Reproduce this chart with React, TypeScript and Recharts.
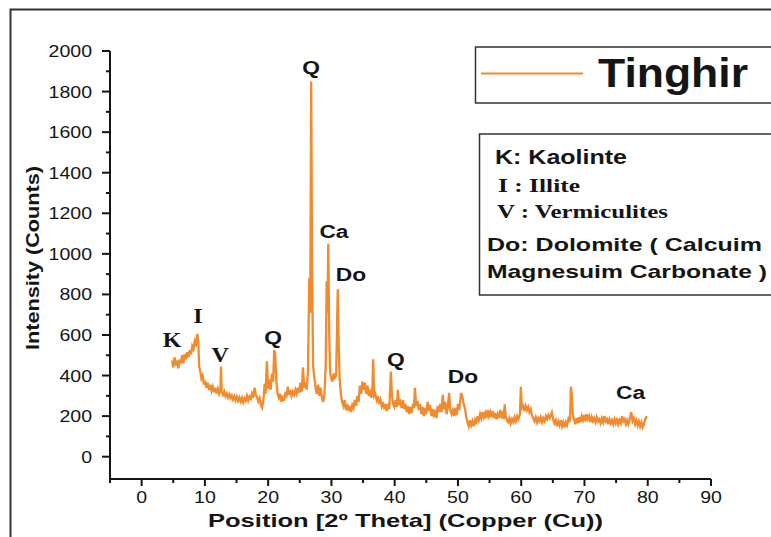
import React from 'react';
import { LineChart, Line, XAxis, YAxis, ReferenceDot } from 'recharts';

// XRD pattern, Tinghir sample
const twoTheta = [
  4.8, 5.0, 5.2, 5.4, 5.6, 5.8, 6.0, 6.2, 6.4, 6.6, 6.8, 7.0, 7.2, 7.4, 7.6, 7.8, 8.0, 8.2, 8.4, 8.6, 8.8, 8.95,
  9.1, 9.25, 9.45, 9.65, 9.85, 10.05, 10.25, 10.45, 10.65, 10.85, 11.05, 11.25, 11.45, 11.65, 11.85, 12.05, 12.25, 12.45,
  12.55, 12.65, 12.85, 13.05, 13.25, 13.45, 13.65, 13.85, 14.05, 14.25, 14.45, 14.65, 14.85, 15.05, 15.25, 15.45, 15.65,
  15.85, 16.05, 16.25, 16.45, 16.65, 16.85, 17.05, 17.25, 17.45, 17.65, 17.85, 18.05, 18.25, 18.45, 18.65, 18.85, 19.05,
  19.25, 19.45, 19.6, 19.8, 20.0, 20.2, 20.4, 20.6, 20.8, 20.95, 21.1, 21.3, 21.5, 21.7, 21.9, 22.1, 22.3, 22.5, 22.7,
  22.9, 23.1, 23.3, 23.5, 23.7, 23.9, 24.1, 24.3, 24.5, 24.7, 24.9, 25.1, 25.3, 25.5, 25.7, 25.9, 26.1, 26.3, 26.5, 26.65,
  26.8, 26.95, 27.1, 27.3, 27.5, 27.7, 27.9, 28.1, 28.3, 28.5, 28.7, 28.9, 29.1, 29.25, 29.38, 29.5, 29.65, 29.8, 29.95,
  30.15, 30.35, 30.55, 30.75, 30.9, 31.0, 31.15, 31.3, 31.5, 31.7, 31.9, 32.1, 32.3, 32.5, 32.7, 32.9, 33.1, 33.3, 33.5,
  33.7, 33.9, 34.1, 34.3, 34.5, 34.7, 34.9, 35.1, 35.3, 35.5, 35.7, 35.9, 36.1, 36.3, 36.45, 36.6, 36.75, 36.95, 37.15,
  37.35, 37.55, 37.75, 37.95, 38.15, 38.35, 38.55, 38.75, 38.95, 39.15, 39.4, 39.55, 39.75, 39.95, 40.15, 40.35, 40.5,
  40.7, 40.9, 41.1, 41.3, 41.5, 41.7, 41.9, 42.1, 42.3, 42.5, 42.7, 42.9, 43.05, 43.2, 43.4, 43.6, 43.8, 44.0, 44.2, 44.4,
  44.6, 44.8, 45.0, 45.2, 45.4, 45.6, 45.8, 46.0, 46.2, 46.4, 46.6, 46.8, 47.0, 47.2, 47.4, 47.6, 47.8, 48.0, 48.2, 48.4,
  48.6, 48.8, 49.0, 49.2, 49.4, 49.6, 49.8, 50.0, 50.2, 50.35, 50.5, 50.7, 50.9, 51.1, 51.3, 51.5, 51.7, 51.9, 52.1, 52.3,
  52.5, 52.7, 52.9, 53.1, 53.3, 53.5, 53.7, 53.9, 54.1, 54.3, 54.5, 54.7, 54.9, 55.1, 55.3, 55.5, 55.7, 55.9, 56.1, 56.3,
  56.5, 56.7, 56.9, 57.1, 57.25, 57.4, 57.55, 57.75, 57.95, 58.15, 58.35, 58.55, 58.75, 58.95, 59.15, 59.35, 59.55, 59.8,
  59.95, 60.1, 60.3, 60.5, 60.7, 60.9, 61.1, 61.3, 61.5, 61.7, 61.9, 62.1, 62.3, 62.5, 62.7, 62.9, 63.1, 63.3, 63.5, 63.7,
  63.9, 64.1, 64.3, 64.5, 64.85, 65.05, 65.25, 65.45, 65.65, 65.85, 66.05, 66.25, 66.45, 66.65, 66.85, 67.05, 67.25, 67.45,
  67.65, 67.75, 67.85, 68.0, 68.15, 68.35, 68.55, 68.75, 68.95, 69.15, 69.35, 69.55, 69.75, 69.95, 70.15, 70.35, 70.55,
  70.75, 70.95, 71.15, 71.35, 71.55, 71.75, 71.95, 72.15, 72.35, 72.55, 72.75, 72.95, 73.15, 73.35, 73.55, 73.75, 73.95,
  74.15, 74.35, 74.55, 74.75, 74.95, 75.15, 75.35, 75.55, 75.75, 75.95, 76.15, 76.35, 76.55, 76.75, 76.95, 77.15, 77.4,
  77.6, 77.8, 78.0, 78.2, 78.4, 78.6, 78.8, 79.0, 79.2, 79.4, 79.6, 79.85,
];

const counts = [
  475, 440, 490, 450, 475, 435, 480, 460, 500, 460, 505, 480, 515, 490, 525, 505, 545, 530, 570, 555, 605, 570,
  445, 425, 385, 400, 355, 375, 340, 365, 330, 355, 325, 345, 318, 340, 312, 335, 310, 330,
  445, 320, 305, 322, 298, 312, 292, 308, 288, 302, 282, 298, 278, 296, 275, 292, 272,
  290, 268, 288, 275, 300, 278, 296, 285, 310, 290, 340, 305, 292, 272, 288, 255, 242,
  280, 360, 310, 470, 335, 380, 330, 410, 370, 525, 510, 370, 310, 290, 310, 270, 300, 275, 310,
  300, 345, 305, 330, 300, 320, 305, 330, 310, 340, 315, 365, 320, 440, 340, 365, 330, 430, 880, 710,
  1850, 910, 450, 390, 340, 310, 355, 300, 340, 290, 270, 310, 450, 865, 710, 1050, 610, 410, 390,
  370, 410, 390, 400, 655, 825, 560, 385, 310, 270, 250, 280, 230, 260, 225, 250, 220, 255, 240,
  280, 250, 300, 270, 350, 310, 370, 330, 365, 310, 350, 300, 320, 290, 310, 480, 300, 310, 280,
  300, 260, 280, 250, 270, 235, 260, 225, 250, 235, 420, 310, 260, 245, 280, 245, 330,
  255, 270, 240, 280, 235, 260, 220, 250, 210, 245, 215, 260, 240, 340, 250, 275, 230, 260, 210, 245,
  200, 240, 210, 270, 225, 255, 200, 235, 195, 230, 190, 250, 220, 260, 220, 305, 235, 270, 210, 245,
  315, 230, 210, 230, 200, 240, 205, 260, 230, 275, 315, 295, 260, 240, 200, 170, 150, 180, 155, 175,
  150, 180, 160, 200, 180, 210, 190, 220, 195, 215, 190, 230, 200, 220, 195, 225, 190, 215, 185, 210,
  190, 230, 200, 215, 185, 258, 200, 180, 170, 190, 165, 185, 170, 195, 175, 200, 185, 210,
  345, 240, 250, 225, 250, 230, 245, 220, 235, 205, 190, 175, 195, 170, 190, 175, 195, 170, 190, 175,
  200, 185, 205, 190, 218, 185, 165, 180, 150, 175, 155, 180, 150, 170, 145, 170, 155, 185,
  170, 210, 345, 310, 210, 185, 160, 190, 165, 195, 170, 200, 180, 205, 175, 210, 185,
  200, 170, 195, 175, 190, 170, 195, 175, 185, 165, 190, 170, 200, 175, 185, 160, 185,
  165, 180, 160, 185, 165, 190, 160, 180, 165, 200, 175, 185, 160, 180, 160, 185, 220,
  175, 190, 160, 180, 155, 175, 150, 170, 145, 160, 185, 200,
];

const xTicks = [-5, 0, 5, 10, 15, 20, 25, 30, 35, 40, 45, 50, 55, 60, 65, 70, 75, 80, 85, 90];
const yTicks = [
  0, 100, 200, 300, 400, 500, 600, 700, 800, 900, 1000, 1100, 1200, 1300, 1400, 1500, 1600, 1700, 1800, 1900, 2000,
];

// phase labels over the peaks
const peakNames = ['K', 'I', 'V', 'Q', 'Q', 'Ca', 'Do', 'Q', 'Do', 'Ca'];
const peakTheta = [4.8, 8.9, 12.4, 20.8, 26.8, 30.4, 33.1, 40.2, 50.8, 77.3];
const peakCounts = [577, 695, 503, 592, 1923, 1114, 902, 483, 399, 320];
const serifNames = ['K', 'I', 'V'];

const seriesName = 'Tinghir';
const keyLines = ['K: Kaolinte', 'I : Illite', 'V : Vermiculites', 'Do: Dolomite ( Calcuim', 'Magnesuim Carbonate )'];

const rows = twoTheta.map((t, i) => ({ theta: t, counts: counts[i] }));

const SANS = '"Liberation Sans", Arial, sans-serif';
const SERIF = '"Liberation Serif", "Times New Roman", serif';
const INK = '#151515';
const ORANGE = '#f28a2e';

const XTick = (props: any) => {
  const { x, y, payload } = props;
  const v = payload.value;
  const major = v % 10 === 0;
  return (
    <g>
      <line x1={x} y1={y} x2={x} y2={y + (major ? 7 : 4)} stroke={INK} strokeWidth={2} />
      {major && (
        <text transform={`translate(${x},${y + 24}) scale(1.22,1)`} textAnchor="middle" fontSize={16} fontFamily={SANS} fill={INK}>
          {v}
        </text>
      )}
    </g>
  );
};

const YTick = (props: any) => {
  const { x, y, payload } = props;
  const v = payload.value;
  const major = v % 200 === 0;
  return (
    <g>
      <line x1={x} y1={y} x2={x - (major ? 8 : 4)} y2={y} stroke={INK} strokeWidth={2} />
      {major && (
        <text transform={`translate(${x - 18},${y + 6}) scale(1.22,1)`} textAnchor="end" fontSize={16} fontFamily={SANS} fill={INK}>
          {v}
        </text>
      )}
    </g>
  );
};

const peakLabel = (name: string) => (props: any) => {
  const vb = props.viewBox || {};
  const cx = vb.x + (vb.width || 0) / 2;
  const cy = vb.y + (vb.height || 0) / 2;
  const serif = serifNames.includes(name);
  return (
    <text
      transform={`translate(${cx},${cy + 7}) scale(1.2,1)`}
      textAnchor="middle"
      fontSize={serif ? 20 : 19}
      fontWeight="bold"
      fontFamily={serif ? SERIF : SANS}
      fill={INK}
    >
      {name}
    </text>
  );
};

export default function App() {
  return (
    <div style={{ position: 'absolute', left: 0, top: 0, width: 771, height: 537, background: '#fff', overflow: 'hidden' }}>
      <LineChart width={771} height={537} data={rows} margin={{ top: 51, right: 60, bottom: 0, left: 10 }}>
        <XAxis
          dataKey="theta"
          type="number"
          domain={[-5, 90]}
          ticks={xTicks}
          interval={0}
          allowDataOverflow
          height={58}
          tickSize={0}
          tickMargin={0}
          tickLine={false}
          axisLine={{ stroke: INK, strokeWidth: 2 }}
          tick={<XTick />}
        />
        <YAxis
          type="number"
          domain={[-110, 2000]}
          ticks={yTicks}
          interval={0}
          allowDataOverflow
          width={100}
          tickSize={0}
          tickMargin={0}
          tickLine={false}
          axisLine={{ stroke: INK, strokeWidth: 2 }}
          tick={<YTick />}
        />
        <Line
          dataKey="counts"
          type="linear"
          stroke={ORANGE}
          strokeWidth={2.3}
          dot={false}
          isAnimationActive={false}
        />
        {peakNames.map((n, i) => (
          <ReferenceDot
            key={`pk-${i}`}
            x={peakTheta[i]}
            y={peakCounts[i]}
            r={0}
            fill="none"
            stroke="none"
            label={{ content: peakLabel(n) }}
          />
        ))}
      </LineChart>

      <svg width={771} height={537} style={{ position: 'absolute', left: 0, top: 0, pointerEvents: 'none' }}>
        {/* outer frame, cropped at right and bottom */}
        <rect x={10.5} y={9.5} width={900} height={700} fill="none" stroke="#333" strokeWidth={2} />

        <text
          transform="translate(39,258) rotate(-90)"
          textAnchor="middle"
          fontSize={19}
          fontWeight="bold"
          fontFamily={SANS}
          fill={INK}
          textLength={184}
          lengthAdjust="spacingAndGlyphs"
        >
          Intensity (Counts)
        </text>
        <text
          x={208}
          y={527}
          fontSize={19}
          fontWeight="bold"
          fontFamily={SANS}
          fill={INK}
          textLength={395}
          lengthAdjust="spacingAndGlyphs"
        >
          Position [2º Theta] (Copper (Cu))
        </text>

        {/* series legend */}
        <rect x={475.5} y={47} width={400} height={56} fill="#fff" stroke="#333" strokeWidth={1.5} />
        <line x1={481} y1={73.5} x2={583} y2={73.5} stroke={ORANGE} strokeWidth={2} />
        <text x={598} y={87} fontSize={40} fontWeight="bold" fontFamily={SANS} fill={INK} textLength={150} lengthAdjust="spacingAndGlyphs">
          {seriesName}
        </text>

        {/* phase key */}
        <rect x={479.5} y={134} width={400} height={161} fill="#fff" stroke="#333" strokeWidth={1.5} />
        <text x={495} y={164} fontSize={20} fontWeight="bold" fontFamily={SANS} fill={INK} textLength={132} lengthAdjust="spacingAndGlyphs">
          {keyLines[0]}
        </text>
        <text x={498} y={192} fontSize={18} fontWeight="bold" fontFamily={SERIF} fill={INK} textLength={82} lengthAdjust="spacingAndGlyphs">
          {keyLines[1]}
        </text>
        <text x={497} y={218} fontSize={18} fontWeight="bold" fontFamily={SERIF} fill={INK} textLength={171} lengthAdjust="spacingAndGlyphs">
          {keyLines[2]}
        </text>
        <text x={487} y={251} fontSize={19} fontWeight="bold" fontFamily={SANS} fill={INK} textLength={275} lengthAdjust="spacingAndGlyphs">
          {keyLines[3]}
        </text>
        <text x={487} y={278} fontSize={19} fontWeight="bold" fontFamily={SANS} fill={INK} textLength={280} lengthAdjust="spacingAndGlyphs">
          {keyLines[4]}
        </text>
      </svg>
    </div>
  );
}
